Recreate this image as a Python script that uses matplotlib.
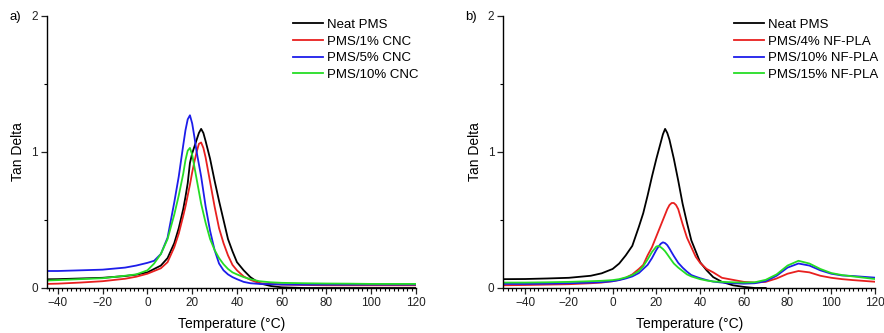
import matplotlib
matplotlib.use("Agg")
import matplotlib.pyplot as plt
from matplotlib.ticker import MultipleLocator

plt.rcParams['font.family'] = ['Liberation Sans', 'DejaVu Sans']

# ---------------- Panel a data ----------------
temp_a = [-45, -40, -30, -20, -10, -5, 0, 3, 6, 9, 12, 14, 16, 17, 18, 19, 20, 21, 22, 23, 24,
          25, 26, 28, 30, 32, 34, 36, 38, 40, 43, 46, 50, 55, 60, 70, 80, 90, 100, 110, 120]
neat_a = [0.064, 0.065, 0.07, 0.075, 0.088, 0.098, 0.115, 0.14, 0.165, 0.22, 0.33, 0.44, 0.58,
          0.67, 0.77, 0.92, 0.99, 1.04, 1.09, 1.14, 1.17, 1.14, 1.08, 0.95, 0.79, 0.64, 0.50,
          0.36, 0.27, 0.19, 0.13, 0.08, 0.035, 0.015, 0.005, 0.0, 0.0, 0.0, 0.0, 0.0, 0.0]
cnc1 = [0.03, 0.032, 0.04, 0.05, 0.068, 0.083, 0.105, 0.125, 0.145, 0.19, 0.30, 0.40, 0.53,
        0.60, 0.68, 0.76, 0.85, 0.93, 1.0, 1.06, 1.07, 1.03, 0.96, 0.78, 0.60, 0.44, 0.33,
        0.24, 0.17, 0.13, 0.085, 0.06, 0.035, 0.03, 0.025, 0.022, 0.02, 0.02, 0.02, 0.02, 0.02]
cnc5 = [0.125, 0.125, 0.13, 0.135, 0.15, 0.165, 0.185, 0.20, 0.25, 0.37, 0.63, 0.82, 1.05,
        1.16, 1.24, 1.27, 1.21, 1.11, 1.0, 0.91, 0.82, 0.71, 0.6, 0.42, 0.28, 0.18, 0.13,
        0.10, 0.08, 0.065, 0.045, 0.035, 0.03, 0.028, 0.026, 0.025, 0.025, 0.025, 0.025,
        0.025, 0.025]
cnc10 = [0.055, 0.058, 0.065, 0.072, 0.09, 0.10, 0.13, 0.18, 0.25, 0.36, 0.54, 0.68, 0.84,
         0.94, 1.01, 1.03, 0.98, 0.89, 0.80, 0.71, 0.62, 0.55, 0.48, 0.36, 0.28, 0.22, 0.175,
         0.14, 0.115, 0.10, 0.08, 0.065, 0.05, 0.042, 0.038, 0.035, 0.033, 0.032, 0.03, 0.03,
         0.03]
labels_a = ["Neat PMS", "PMS/1% CNC", "PMS/5% CNC", "PMS/10% CNC"]

# ---------------- Panel b data ----------------
temp_b = [-50, -40, -30, -20, -10, -5, 0, 3, 6, 9, 12, 14, 16, 18, 20, 21, 22, 23, 24, 25, 26,
          27, 28, 29, 30, 32, 34, 36, 38, 40, 43, 46, 50, 55, 60, 65, 70, 75, 80, 85, 90, 95,
          100, 105, 110, 120]
neat_b = [0.065, 0.066, 0.07, 0.075, 0.09, 0.108, 0.14, 0.18, 0.24, 0.31, 0.45, 0.55, 0.68,
          0.82, 0.95, 1.01, 1.07, 1.13, 1.17, 1.14, 1.09, 1.02, 0.95, 0.87, 0.79, 0.62, 0.48,
          0.35, 0.27, 0.19, 0.13, 0.08, 0.045, 0.02, 0.008, 0.0, 0.0,
          None, None, None, None, None, None, None, None, None]
pla4 = [0.02, 0.022, 0.025, 0.028, 0.035, 0.04, 0.05, 0.06, 0.075, 0.10, 0.14, 0.17, 0.24,
        0.30, 0.38, 0.42, 0.46, 0.50, 0.54, 0.58, 0.61, 0.625, 0.625, 0.61, 0.58, 0.47, 0.37,
        0.30, 0.23, 0.185, 0.14, 0.115, 0.075, 0.06, 0.045, 0.04, 0.045, 0.07, 0.105, 0.125,
        0.115, 0.09, 0.075, 0.065, 0.058, 0.046]
pla10 = [0.03, 0.03, 0.032, 0.035, 0.04, 0.043, 0.05, 0.058, 0.07, 0.085, 0.11, 0.14, 0.17,
         0.22, 0.28, 0.305, 0.325, 0.336, 0.33, 0.315, 0.29, 0.262, 0.235, 0.21, 0.185, 0.15,
         0.12, 0.095, 0.083, 0.072, 0.058, 0.047, 0.04, 0.035, 0.032, 0.035, 0.05, 0.09, 0.15,
         0.18, 0.165, 0.13, 0.105, 0.092, 0.088, 0.076]
pla15 = [0.04, 0.04, 0.042, 0.045, 0.05, 0.053, 0.058, 0.065, 0.078, 0.095, 0.125, 0.16, 0.21,
         0.265, 0.305, 0.309, 0.30, 0.287, 0.27, 0.248, 0.225, 0.202, 0.18, 0.165, 0.15, 0.125,
         0.10, 0.085, 0.075, 0.065, 0.055, 0.048, 0.045, 0.042, 0.04, 0.042, 0.06, 0.10, 0.165,
         0.20, 0.18, 0.14, 0.11, 0.095, 0.085, 0.066]
labels_b = ["Neat PMS", "PMS/4% NF-PLA", "PMS/10% NF-PLA", "PMS/15% NF-PLA"]

colors = ["#000000", "#e8201f", "#1d1dea", "#25dd25"]

W, H = 884, 333
fig = plt.figure(figsize=(W / 100, H / 100), dpi=100)

def px_axes(l, r, t, b):
    return fig.add_axes([l / W, 1 - b / H, (r - l) / W, (b - t) / H])

ax_a = px_axes(46.7, 416, 16, 288)
ax_b = px_axes(503.3, 875, 16, 288)


def style(ax, xmin, label, leg_x, series, temps, labels):
    for ys, c, lab in zip(series, colors, labels):
        xs = [t for t, y in zip(temps, ys) if y is not None]
        yv = [y for y in ys if y is not None]
        ax.plot(xs, yv, color=c, lw=1.3, label=lab, solid_joinstyle="round")
    ax.set_xlim(xmin, 120)
    ax.set_ylim(0, 2)
    ax.xaxis.set_major_locator(MultipleLocator(20))
    ax.xaxis.set_minor_locator(MultipleLocator(2))
    ax.yaxis.set_major_locator(MultipleLocator(1))
    ax.yaxis.set_minor_locator(MultipleLocator(0.5))
    for s in ("top", "right"):
        ax.spines[s].set_visible(False)
    for s in ("left", "bottom"):
        ax.spines[s].set_linewidth(1.0)
    ax.tick_params(which="major", direction="out", length=4.5, width=0.9, labelsize=8.5,
                   pad=2, colors="#222222")
    ax.tick_params(which="minor", direction="out", length=2.5, width=0.8)
    ax.set_xlabel("Temperature (\u00b0C)", fontsize=10, labelpad=6)
    ax.set_ylabel("Tan Delta", fontsize=10, labelpad=4)
    ax.text(-0.102, 0.995, label, transform=ax.transAxes, fontsize=9.5, va="center", ha="left")
    ax.legend(loc="upper left", bbox_to_anchor=(leg_x, 0.99), frameon=False, fontsize=9.5,
              handlelength=2.3, handletextpad=0.3, labelspacing=0.33, borderpad=0,
              borderaxespad=0)


style(ax_a, -45, "a)", 0.667, [neat_a, cnc1, cnc5, cnc10], temp_a, labels_a)
style(ax_b, -50, "b)", 0.621, [neat_b, pla4, pla10, pla15], temp_b, labels_b)

fig.savefig("out.png", dpi=100)
